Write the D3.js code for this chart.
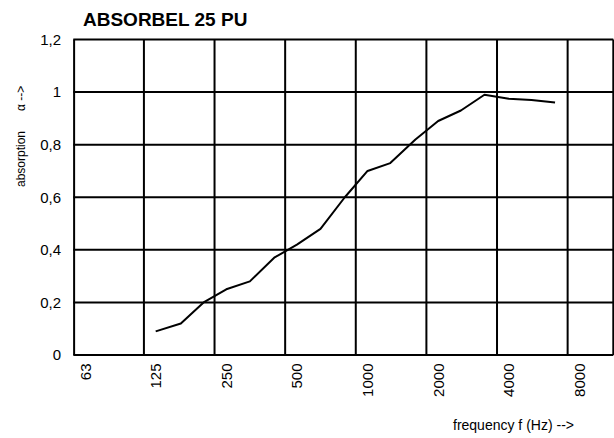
<!DOCTYPE html>
<html>
<head>
<meta charset="utf-8">
<script src="https://cdn.jsdelivr.net/npm/d3@7"></script>
<style>
  body { margin: 0; background: #fff; }
  text { font-family: "Liberation Sans", Arial, sans-serif; fill: #000; }
</style>
</head>
<body>
<div id="chart"></div>
<script>
// third-octave centre frequencies (Hz) and absorption values
var freqs = [125, 160, 200, 250, 315, 400, 500, 630, 800, 1000, 1250, 1600, 2000, 2500, 3150, 4000, 5000, 6300];
var alpha = [0.09, 0.12, 0.20, 0.25, 0.28, 0.37, 0.42, 0.48, 0.60, 0.70, 0.73, 0.82, 0.89, 0.93, 0.99, 0.975, 0.97, 0.96];

// octave bands on the x axis, y tick values
var octaves = [63, 125, 250, 500, 1000, 2000, 4000, 8000];
var octaveLabels = ["63", "125", "250", "500", "1000", "2000", "4000", "8000"];
var yTicks = [0, 0.2, 0.4, 0.6, 0.8, 1.0, 1.2];

var width = 614, height = 438;
var margin = {top: 39.5, right: 0.7, bottom: 83, left: 73.3};

var svg = d3.select("#chart").append("svg")
    .attr("width", width)
    .attr("height", height);

// band edge sits 1/6 octave below the centre frequency
var band = Math.pow(2, 1/6);

var x = d3.scaleLog()
    .domain([125 / Math.pow(2, 7/6), 125 * Math.pow(2, 6.48)])
    .range([margin.left, width - margin.right]);

var y = d3.scaleLinear()
    .domain([0, 1.2])
    .range([height - margin.bottom, margin.top]);

var fmt = function(d) { return d3.format(".1~f")(d).replace(".", ","); };

var grid = svg.append("g").attr("class", "grid");

// horizontal grid
grid.selectAll(".hline")
    .data(yTicks)
    .enter().append("line")
    .attr("x1", x.range()[0])
    .attr("x2", x.range()[1])
    .attr("y1", function(d) { return y(d); })
    .attr("y2", function(d) { return y(d); })
    .style("stroke", "#000")
    .style("stroke-width", 2);

// vertical grid at the octave band edges
grid.selectAll(".vline")
    .data(octaves.map(function(f) { return f / band; }).concat([x.domain()[1]]))
    .enter().append("line")
    .attr("x1", function(d) { return x(d); })
    .attr("x2", function(d) { return x(d); })
    .attr("y1", y(0))
    .attr("y2", y(1.2))
    .style("stroke", "#000")
    .style("stroke-width", 2);

// y tick labels
svg.selectAll(".ylab")
    .data(yTicks)
    .enter().append("text")
    .attr("x", 61)
    .attr("y", function(d) { return y(d) + 5.4; })
    .attr("text-anchor", "end")
    .style("font-size", "15px")
    .text(fmt);

// x tick labels, rotated
svg.selectAll(".xlab")
    .data(octaves)
    .enter().append("text")
    .attr("transform", function(d) {
      return "translate(" + (x(d) + 5.4) + "," + (y(0) + 8.5) + ") rotate(-90)";
    })
    .attr("text-anchor", "end")
    .style("font-size", "15px")
    .text(function(d, i) { return octaveLabels[i]; });

// the absorption curve
var line = d3.line()
    .x(function(d, i) { return x(freqs[i]); })
    .y(function(d) { return y(d); });

svg.append("path")
    .datum(alpha)
    .attr("d", line)
    .style("fill", "none")
    .style("stroke", "#000")
    .style("stroke-width", 2)
    .style("stroke-linejoin", "round");

// title
svg.append("text")
    .attr("x", 83)
    .attr("y", 26)
    .style("font-size", "19px")
    .style("font-weight", "bold")
    .text("ABSORBEL 25 PU");

// axis titles
var yTitle = svg.append("text")
    .attr("transform", "translate(24.5,187) rotate(-90)")
    .style("font-size", "12px");
yTitle.append("tspan").text("absorption");
yTitle.append("tspan").attr("dx", 20).text("\u03b1 -->");

svg.append("text")
    .attr("x", 453)
    .attr("y", 429.5)
    .style("font-size", "14px")
    .text("frequency f (Hz) -->");
</script>
</body>
</html>
